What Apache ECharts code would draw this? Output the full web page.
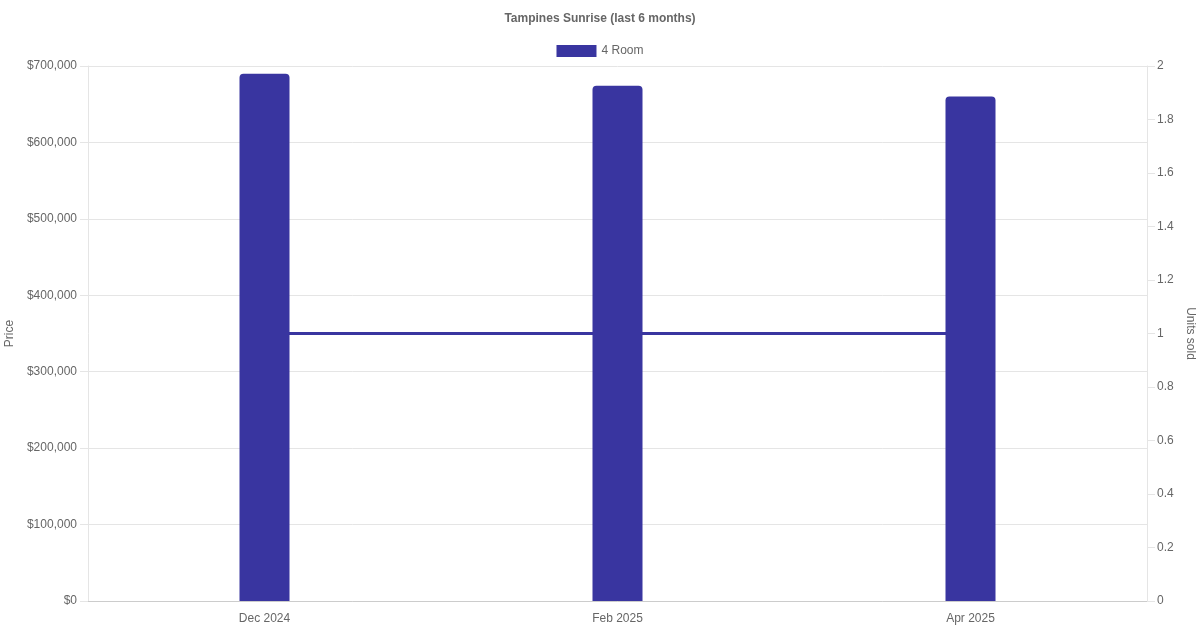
<!DOCTYPE html>
<html>
<head>
<meta charset="utf-8">
<script src="https://cdn.jsdelivr.net/npm/echarts@6/dist/echarts.min.js"></script>
<style>
  html, body { margin: 0; padding: 0; background: #fff; }
  #chart { width: 1200px; height: 630px; }
</style>
</head>
<body>
<div id="chart"></div>
<script>
const months = ['Dec 2024', 'Feb 2025', 'Apr 2025'];
const prices = [690000, 674000, 660000];
const unitsSold = [1, 1, 1];

const chart = echarts.init(document.getElementById('chart'), null, { renderer: 'canvas' });
const textColor = '#666';
const gridColor = '#e5e5e5';
const barColor = '#3935a0';

const option = {
  animation: false,
  textStyle: { fontFamily: 'Liberation Sans, Arial, sans-serif' },
  title: {
    text: 'Tampines Sunrise (last 6 months)',
    left: 'center',
    top: 8,
    textStyle: { fontSize: 12, fontWeight: 'bold', color: textColor }
  },
  legend: {
    top: 45,
    left: 'center',
    itemWidth: 40,
    itemHeight: 12,
    itemGap: 10,
    padding: 0,
    data: [{ name: '4 Room', icon: 'rect' }],
    textStyle: { fontSize: 12, color: textColor }
  },
  grid: { left: 88, right: 53, top: 66, bottom: 29, containLabel: false, outerBoundsMode: 'none' },
  xAxis: {
    type: 'category',
    data: months,
    boundaryGap: true,
    axisLine: { lineStyle: { color: '#ccc' } },
    axisTick: { show: false },
    axisLabel: { color: textColor, fontSize: 12, margin: 12 }
  },
  yAxis: [
    {
      type: 'value',
      name: 'Price',
      nameLocation: 'middle',
      nameRotate: 90,
      nameGap: 67,
      nameTextStyle: { color: textColor, fontSize: 12 },
      min: 0,
      max: 700000,
      interval: 100000,
      axisLine: { show: true, lineStyle: { color: gridColor } },
      axisTick: { show: true, inside: false, length: 8, lineStyle: { color: gridColor } },
      axisLabel: {
        color: textColor, fontSize: 12, margin: 11,
        formatter: v => '$' + v.toLocaleString('en-US')
      },
      splitLine: { lineStyle: { color: gridColor } }
    },
    {
      type: 'value',
      name: 'Units sold',
      nameLocation: 'middle',
      nameRotate: -90,
      nameGap: 34,
      nameTextStyle: { color: textColor, fontSize: 12 },
      min: 0,
      max: 2,
      interval: 0.2,
      position: 'right',
      axisLine: { show: true, lineStyle: { color: gridColor } },
      axisTick: { show: true, inside: false, length: 8, lineStyle: { color: gridColor } },
      axisLabel: {
        color: textColor, fontSize: 12, margin: 10,
        formatter: v => String(parseFloat(v.toFixed(1)))
      },
      splitLine: { show: false }
    }
  ],
  series: [
    {
      name: '4 Room',
      type: 'bar',
      yAxisIndex: 0,
      data: prices,
      barWidth: 50,
      z: 3,
      itemStyle: { color: barColor, borderRadius: [4, 4, 0, 0] }
    },
    {
      name: '4 Room',
      type: 'line',
      yAxisIndex: 1,
      data: unitsSold,
      showSymbol: false,
      z: 2,
      lineStyle: { color: barColor, width: 3 },
      itemStyle: { color: barColor }
    }
  ]
};

chart.setOption(option);
</script>
</body>
</html>
